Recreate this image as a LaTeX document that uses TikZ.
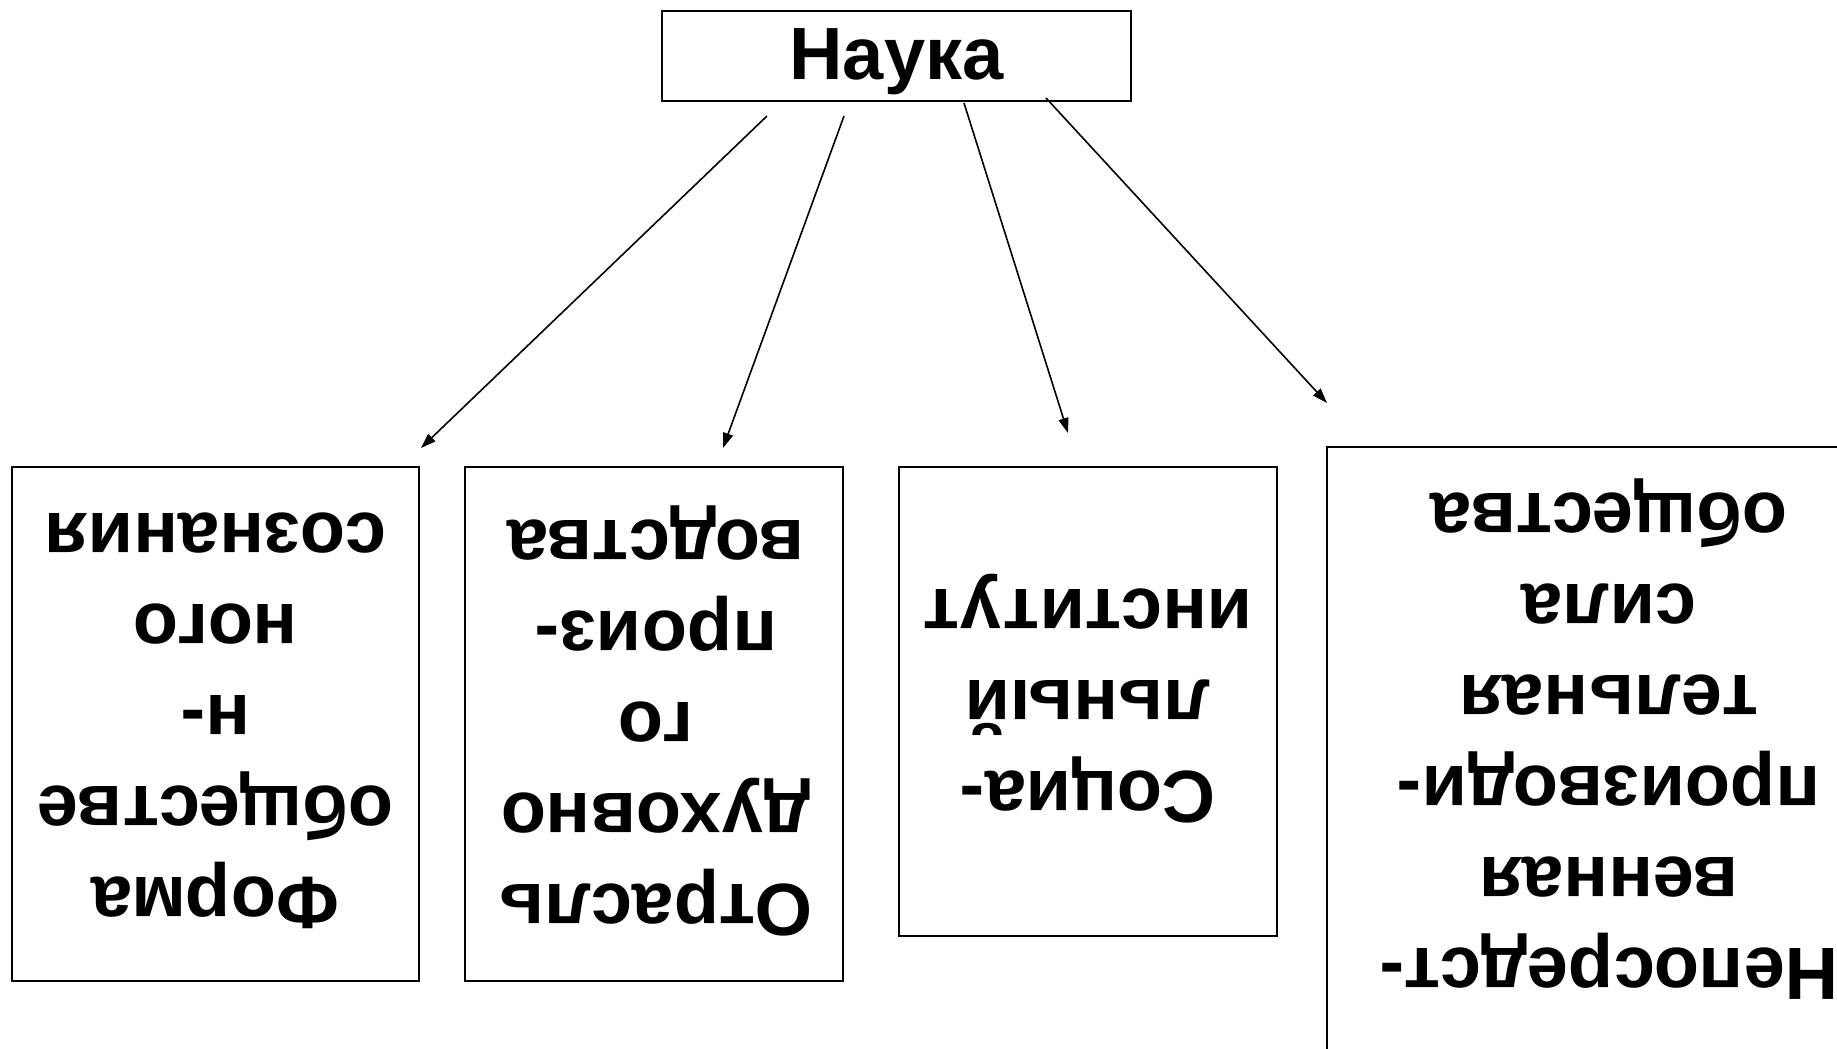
\documentclass[tikz,border=0pt]{standalone}
\usepackage{fontspec}
\setmainfont{Liberation Sans}
\usetikzlibrary{arrows.meta}
\begin{document}
\begin{tikzpicture}[x=0.5pt,y=-0.5pt,
  box/.style={draw=black,line width=1pt,fill=none,inner sep=0pt},
  txt/.style={font=\fontsize{37}{45.5}\selectfont\bfseries,align=center,rotate=180,inner sep=0pt},
  conn/.style={line width=0.8pt,-{Triangle[length=7.5pt,width=5pt]}}]
\useasboundingbox (0,0) rectangle (1837,1049);
\fill[white] (0,0) rectangle (1837,1049);
% top node
\node[box,minimum width=234.5pt,minimum height=45pt] (nauka) at (896.5,55.5) {};
\node[font=\fontsize{37}{45}\selectfont\bfseries,inner sep=0pt] (naukatxt) at (896.5,62) {Наука};
% lower boxes
\node[box,minimum width=203.5pt,minimum height=257pt] (b1) at (215.5,724) {};
\node[txt] (t1) at (215.5,721) {Форма\\обществе\\н-\\ного\\сознания};
\node[box,minimum width=189pt,minimum height=257pt] (b2) at (654,724) {};
\node[txt] (t2) at (656,721) {Отрасль\\духовно\\го\\произ-\\водства};
\node[box,minimum width=189pt,minimum height=234.5pt] (b3) at (1088,701.5) {};
\node[txt] (t3) at (1088,699) {Социа-\\льный\\институт};
\node[box,minimum width=286.5pt,minimum height=326.5pt] (b4) at (1613.5,773.5) {};
\node[txt] (t4) at (1609,739) {Непосредст-\\венная\\производи-\\тельная\\сила\\общества};
% arrow end points
\coordinate (a1s) at (767,116);  \coordinate (a1e) at (421,448);
\coordinate (a2s) at (844,116);  \coordinate (a2e) at (723,448);
\coordinate (a3s) at (964,103);  \coordinate (a3e) at (1068,433);
\coordinate (a4s) at (1046,98);  \coordinate (a4e) at (1327,403);
\draw[conn] (a1s) -- (a1e);
\draw[conn] (a2s) -- (a2e);
\draw[conn] (a3s) -- (a3e);
\draw[conn] (a4s) -- (a4e);
\end{tikzpicture}
\end{document}
